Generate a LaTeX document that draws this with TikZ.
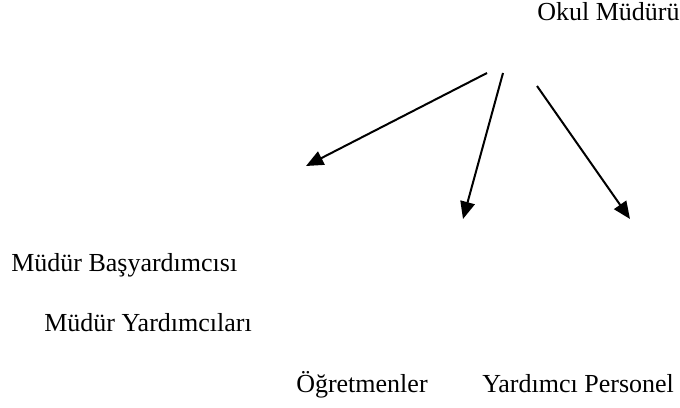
\documentclass[tikz,border=0pt]{standalone}
\usepackage{fontspec}
\setmainfont{Liberation Serif}
\usetikzlibrary{arrows.meta}
\begin{document}
\begin{tikzpicture}[x=0.75pt,y=-0.75pt,
  lbl/.style={anchor=base west,inner sep=0pt,font=\fontsize{19.5}{23}\selectfont},
  arr/.style={-{Triangle[length=13pt,width=11pt]},line width=1.5pt}]
\useasboundingbox (0,0) rectangle (680,407);
\node[lbl] (mudur) at (537,21) {Okul Müdürü};
\node[lbl] (basyrd) at (11,271) {Müdür Başyardımcısı};
\node[lbl] (yrd) at (44,331) {Müdür Yardımcıları};
\node[lbl] (ogrt) at (296,392) {Öğretmenler};
\node[lbl] (pers) at (482,392) {Yardımcı Personel};

\coordinate (s1) at (487,73);
\coordinate (t1) at (306,166);
\draw[arr] (s1) -- (t1);

\coordinate (s2) at (503,73);
\coordinate (t2) at (463,219);
\draw[arr] (s2) -- (t2);

\coordinate (s3) at (537,86);
\coordinate (t3) at (630,219);
\draw[arr] (s3) -- (t3);
\end{tikzpicture}
\end{document}
